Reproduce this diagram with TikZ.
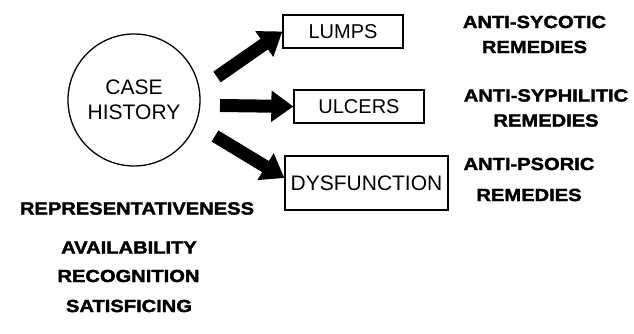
\documentclass[tikz,border=0pt]{standalone}
\usepackage{fontspec}
\setmainfont{Liberation Sans}
\newfontfamily\heavyfont[FakeStretch=1.15,FakeBold=2]{Liberation Sans Bold}
\usetikzlibrary{arrows.meta}

\tikzset{
  itembox/.style={draw, line width=1.3pt, inner sep=0pt, font=\fontsize{20}{25}\selectfont},
  heavylabel/.style={align=center, inner sep=0pt, font=\heavyfont\fontsize{17.5}{25}\selectfont},
  fatarrow/.style={line width=13pt, -{Triangle[length=22pt,width=30pt]}}
}

\begin{document}
\begin{tikzpicture}[x=1pt,y=1pt]
\useasboundingbox (0,0) rectangle (634,334);

% the case and what it shows
\node[circle, draw, line width=1.3pt, minimum size=132pt, inner sep=0pt, align=center,
      font=\fontsize{21}{25}\selectfont] (hist) at (134,234) {CASE\\HISTORY};

\node[itembox, minimum width=120pt, minimum height=33pt] (lumps) at (343,302.5) {LUMPS};
\node[itembox, minimum width=130pt, minimum height=33pt] (ulcers) at (359,227.5) {ULCERS};
\node[itembox, minimum width=163pt, minimum height=54pt, font=\fontsize{21}{25}\selectfont] (dysf) at (366.5,151) {DYSFUNCTION};

% arrow tails
\coordinate (t1) at (217,257);
\coordinate (t2) at (220,228.5);
\coordinate (t3) at (215,198);

\draw[fatarrow] (t1) -- (lumps.west);
\draw[fatarrow] (t2) -- (ulcers.west);
\draw[fatarrow] (t3) -- ([yshift=5pt]dysf.west);

% remedies
\node[heavylabel] (sycotic) at (534.5,299.5) {ANTI-SYCOTIC\\REMEDIES};
\node[heavylabel] (syphilitic) at (546,226) {ANTI-SYPHILITIC\\REMEDIES};
\node[heavylabel] (psoric) at (529,154.5) {ANTI-PSORIC\\[6pt]REMEDIES};

% heuristics
\node[heavylabel] (repr) at (137,125.5) {REPRESENTATIVENESS};
\node[heavylabel] (avail) at (129,86.5) {AVAILABILITY};
\node[heavylabel] (recog) at (128.5,58) {RECOGNITION};
\node[heavylabel] (satis) at (129,28) {SATISFICING};

\end{tikzpicture}
\end{document}
